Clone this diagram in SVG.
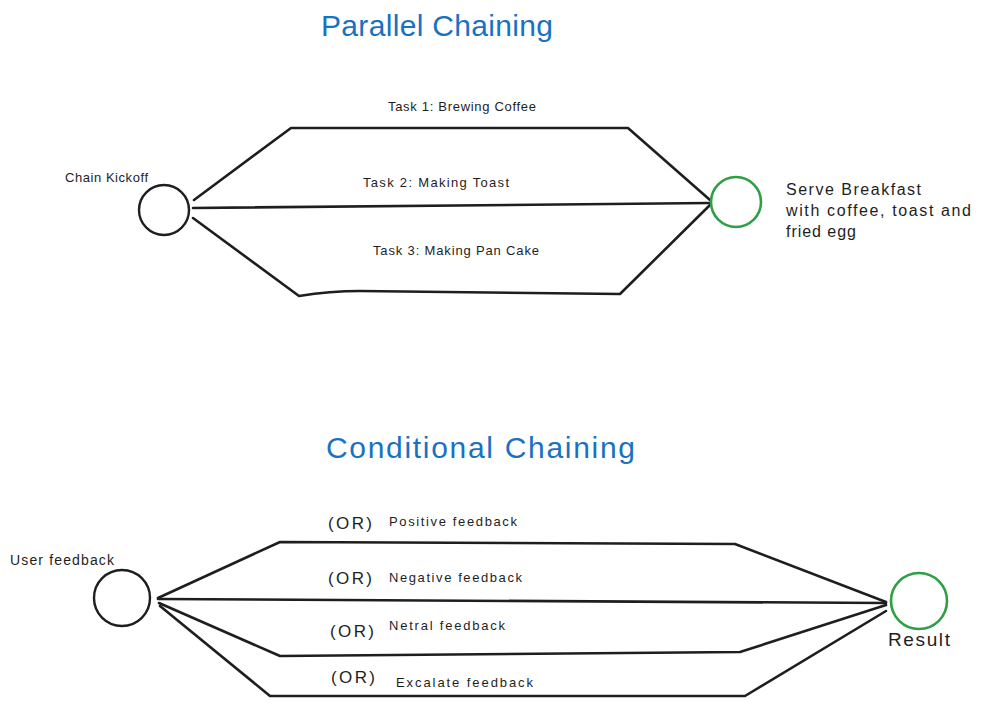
<svg xmlns="http://www.w3.org/2000/svg" width="989" height="708" viewBox="0 0 989 708">
<style>
.edge{fill:none;stroke:#1e1e1e;stroke-width:2.6;stroke-linejoin:round;stroke-linecap:round}
.node{fill:none;stroke:#1e1e1e;stroke-width:2.4}
.green{fill:none;stroke:#2f9e44;stroke-width:2.6}
.t{font-family:"Liberation Sans",Arial,sans-serif;fill:#1e1e1e}
.title{font-family:"Liberation Sans",Arial,sans-serif;fill:#1971c2;font-size:30px}
.s{font-size:13px}
.m{font-size:16px}
.or{font-size:17px}
</style>
<rect width="989" height="708" fill="#ffffff"/>
<text class="title" x="321" y="36" textLength="232">Parallel Chaining</text>
<text class="title" x="326" y="458" textLength="309">Conditional Chaining</text>
<g id="connectors">
<path class="edge" d="M194,200 L291,128 L628,128 L710,200"/>
<path class="edge" d="M193,208 L710,203"/>
<path class="edge" d="M193,218 L299,296 Q330,291 360,291 L620,294 L710,205"/>
<path class="edge" d="M158,598 L280,542 L735,544 L886,602"/>
<path class="edge" d="M158,599 L886,603"/>
<path class="edge" d="M159,603 L280,656 L740,652 L886,605"/>
<path class="edge" d="M160,606 L270,696 L745,696 L886,611"/>
</g>
<g id="kickoff">
<circle class="node" cx="164" cy="210" r="25"/>
<text class="t s" x="65" y="182" textLength="83">Chain Kickoff</text>
</g>
<g id="task1"><text class="t s" x="388" y="111" textLength="148">Task 1: Brewing Coffee</text></g>
<g id="task2"><text class="t s" x="363" y="187" textLength="146">Task 2: Making Toast</text></g>
<g id="task3"><text class="t s" x="373" y="255" textLength="166">Task 3: Making Pan Cake</text></g>
<g id="serve">
<circle class="green" cx="736" cy="202" r="25"/>
<text class="t m" x="786" y="195" textLength="135">Serve Breakfast</text>
<text class="t m" x="786" y="216" textLength="185">with coffee, toast and</text>
<text class="t m" x="786" y="237" textLength="70">fried egg</text>
</g>
<g id="user">
<circle class="node" cx="122" cy="598" r="28"/>
<text class="t" style="font-size:14px" x="10" y="565" textLength="104">User feedback</text>
</g>
<g id="positive">
<text class="t or" x="328" y="529" textLength="44">(OR)</text>
<text class="t s" x="389" y="526" textLength="128">Positive feedback</text>
</g>
<g id="negative">
<text class="t or" x="328" y="584" textLength="44">(OR)</text>
<text class="t s" x="389" y="582" textLength="133">Negative feedback</text>
</g>
<g id="neutral">
<text class="t or" x="330" y="637" textLength="44">(OR)</text>
<text class="t s" x="389" y="630" textLength="116">Netral feedback</text>
</g>
<g id="escalate">
<text class="t or" x="331" y="683" textLength="44">(OR)</text>
<text class="t s" x="396" y="687" textLength="137">Excalate feedback</text>
</g>
<g id="result">
<circle class="green" cx="919" cy="601" r="28"/>
<text class="t" style="font-size:19px" x="888" y="646" textLength="62">Result</text>
</g>
</svg>
